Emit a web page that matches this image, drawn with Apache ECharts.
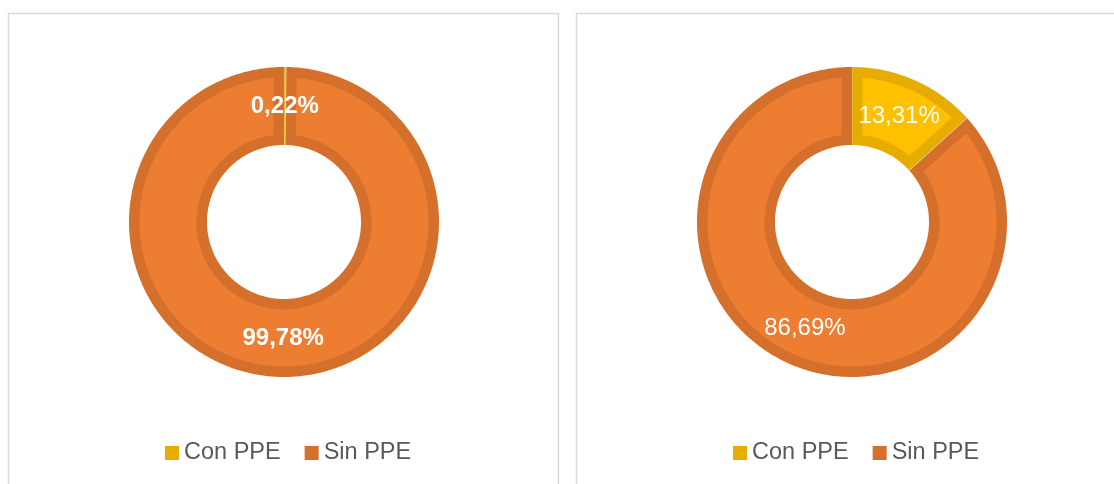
<!DOCTYPE html>
<html>
<head>
<meta charset="utf-8">
<script src="https://cdn.jsdelivr.net/npm/echarts@6/dist/echarts.min.js"></script>
<style>
  html, body { margin: 0; padding: 0; background: #ffffff; }
  #main { width: 1114px; height: 484px; }
</style>
</head>
<body>
<div id="main"></div>
<script>
// categorias
let categories = ['Con PPE', 'Sin PPE'];

// porcentajes grafico izquierdo
let leftValues = [0.22, 99.78];

// porcentajes grafico derecho
let rightValues = [13.31, 86.69];

// colores relleno / borde (estilo Excel)
let fillColors = ['#FFC000', '#ED7D31'];
let edgeColors = ['#E6AC00', '#D5702C'];

let fontFamily = '"Liberation Sans", Arial, sans-serif';

//radios del anillo (px) y ancho del borde interior
const R_IN = 77;
const R_OUT = 155;
const BAND = 10.5;

//formatear numero con coma decimal
function fmt(v) {
  return v.toFixed(2).replace('.', ',') + '%';
}

//angulo (en % del eje) que ocupa una distancia perpendicular a radio r
function pctOf(dist, r) {
  return Math.asin(dist / r) / (2 * Math.PI) * 100;
}

//dibujar un sector del anillo, con borde interior mas oscuro
function makeRender(i, bold) {
  return function (params, api) {
    let s = api.value(0);
    let e = api.value(1);
    let v = api.value(2);

    //puntos de un arco, pasando por la escala polar
    let arc = (r, from, to) => {
      let pts = [];
      let n = Math.max(2, Math.ceil(Math.abs(to - from) / 0.2) + 1);
      for (let k = 0; k < n; k++) {
        pts.push(api.coord([r, from + (to - from) * k / (n - 1)]));
      }
      return pts;
    };

    let children = [];

    //sector completo (color del borde)
    children.push({
      type: 'polygon',
      shape: { points: arc(R_OUT, s, e).concat(arc(R_IN, e, s)) },
      style: { fill: edgeColors[i] }
    });

    //relleno interior
    let r1 = R_IN + BAND;
    let r2 = R_OUT - BAND;
    let d1 = pctOf(BAND, r1);
    let d2 = pctOf(BAND, r2);
    if (e - s > 2 * d1) {
      children.push({
        type: 'polygon',
        shape: { points: arc(r2, s + d2, e - d2).concat(arc(r1, e - d1, s + d1)) },
        style: { fill: fillColors[i] }
      });
    }

    //linea clara de separacion
    let a = api.coord([R_IN, s]);
    let b = api.coord([R_OUT, s]);
    children.push({
      type: 'line',
      shape: { x1: a[0], y1: a[1], x2: b[0], y2: b[1] },
      style: { stroke: 'rgba(255,255,255,0.45)', lineWidth: 1 }
    });

    //etiqueta
    let mid = api.coord([(R_IN + R_OUT) / 2, (s + e) / 2]);
    children.push({
      type: 'text',
      z2: 100,
      x: mid[0],
      y: mid[1],
      style: {
        text: fmt(v),
        fill: '#ffffff',
        fontSize: 24,
        fontWeight: bold ? 'bold' : 'normal',
        fontFamily: fontFamily,
        align: 'center',
        verticalAlign: 'middle'
      }
    });

    return { type: 'group', children };
  };
}

//series de un anillo (una por categoria)
function buildDonut(values, polarIndex, bold) {
  let total = values.reduce((t, v) => t + v, 0);
  let acc = 0;
  return categories.map((name, i) => {
    let s = acc / total * 100;
    acc += values[i];
    let e = acc / total * 100;
    return {
      type: 'custom',
      name,
      coordinateSystem: 'polar',
      polarIndex,
      silent: true,
      itemStyle: { color: edgeColors[i] },
      data: [[s, e, values[i]]],
      renderItem: makeRender(i, bold)
    };
  });
}

let chart = echarts.init(document.getElementById('main'), null, { renderer: 'canvas' });

let legendStyle = {
  data: categories,
  top: 436,
  icon: 'rect',
  itemWidth: 14,
  itemHeight: 14,
  itemGap: 24,
  selectedMode: false,
  textStyle: { fontSize: 23.5, color: '#595959', fontFamily: fontFamily }
};

let centers = [[284, 222], [852, 222]];

let option = {
  backgroundColor: '#ffffff',
  animation: false,
  legend: [
    Object.assign({ left: 160 }, legendStyle),
    Object.assign({ left: 728 }, legendStyle)
  ],
  polar: centers.map(c => ({ center: c, radius: [0, R_OUT] })),
  angleAxis: centers.map((c, k) => ({
    polarIndex: k, type: 'value', min: 0, max: 100, startAngle: 90, clockwise: true, show: false
  })),
  radiusAxis: centers.map((c, k) => ({
    polarIndex: k, type: 'value', min: 0, max: R_OUT, show: false
  })),
  graphic: [
    {
      type: 'rect',
      z: 0,
      shape: { x: 8.5, y: 13.5, width: 550, height: 520 },
      style: { fill: 'none', stroke: '#D9D9D9', lineWidth: 1.5 }
    },
    {
      type: 'rect',
      z: 0,
      shape: { x: 576.5, y: 13.5, width: 560, height: 520 },
      style: { fill: 'none', stroke: '#D9D9D9', lineWidth: 1.5 }
    }
  ],
  series: [].concat(
    buildDonut(leftValues, 0, true),
    buildDonut(rightValues, 1, false)
  )
};

chart.setOption(option);
</script>
</body>
</html>
